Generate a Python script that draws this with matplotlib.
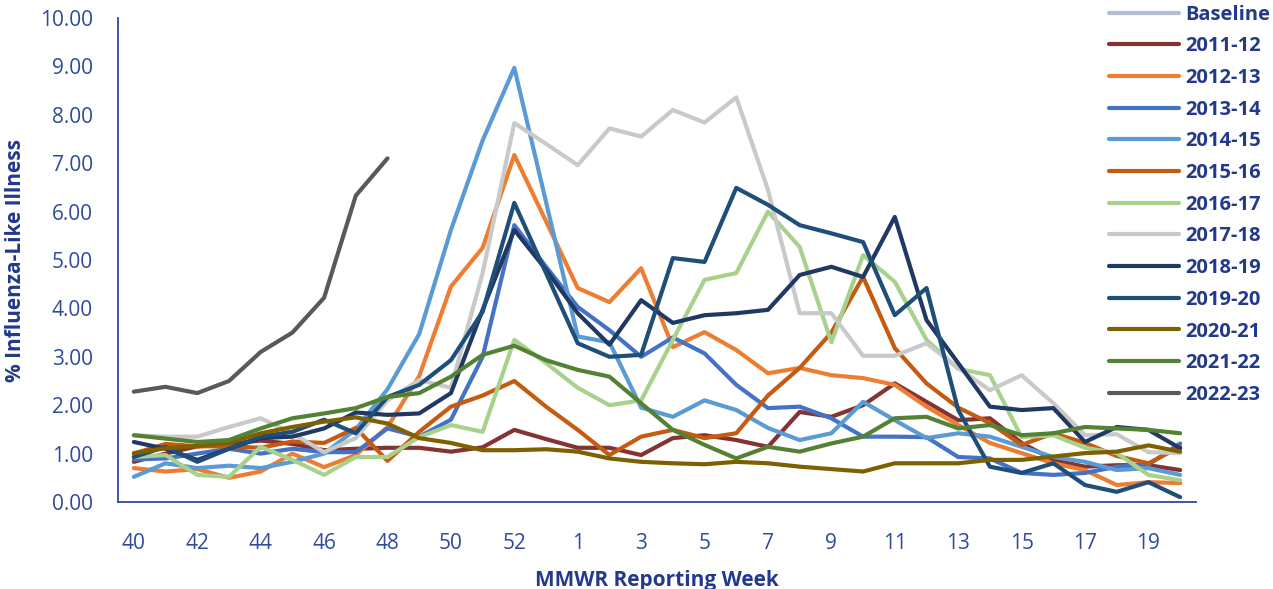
import numpy as np
import matplotlib
matplotlib.use("Agg")
import matplotlib.pyplot as plt

plt.rcParams['font.family'] = ['Open Sans', 'DejaVu Sans']

# MMWR weeks 40..53 then 1..20
weeks = list(range(40, 54)) + list(range(1, 21))
tick_labels = [str(w) if i % 2 == 0 else "" for i, w in enumerate(weeks)]

s2011_12 = [0.83, 1.0, 1.15, 1.2, 1.27, 1.2, 1.07, 1.1, 1.12, 1.12, 1.04, 1.13, 1.49, 1.3, 1.12, 1.12, 0.97,
            1.32, 1.38, 1.28, 1.14, 1.86, 1.76, 2.0, 2.45, 2.07, 1.69, 1.73, 1.22, 0.87, 0.73, 0.76, 0.76, 0.66]
s2012_13 = [0.7, 0.63, 0.68, 0.5, 0.63, 1.0, 0.72, 0.97, 1.55, 2.6, 4.45, 5.25, 7.17, 5.8, 4.42, 4.13, 4.83,
            3.2, 3.51, 3.14, 2.66, 2.77, 2.62, 2.56, 2.42, 1.97, 1.59, 1.22, 1.01, 0.8, 0.66, 0.35, 0.41, 0.39]
s2013_14 = [0.88, 0.9, 1.0, 1.1, 1.0, 1.1, 1.03, 1.03, 1.52, 1.35, 1.7, 3.0, 5.72, 4.86, 4.03, 3.55, 3.0,
            3.4, 3.07, 2.42, 1.94, 1.97, 1.73, 1.35, 1.35, 1.34, 0.93, 0.9, 0.6, 0.56, 0.6, 0.73, 0.77, 1.21]
s2014_15 = [0.52, 0.8, 0.7, 0.75, 0.7, 0.83, 1.0, 1.5, 2.33, 3.47, 5.62, 7.47, 8.97, 6.2, 3.42, 3.3, 1.95,
            1.76, 2.1, 1.9, 1.53, 1.28, 1.42, 2.07, 1.69, 1.32, 1.42, 1.35, 1.14, 0.93, 0.83, 0.66, 0.7, 0.56]
s2015_16 = [1.0, 1.2, 1.15, 1.15, 1.12, 1.25, 1.22, 1.53, 0.85, 1.45, 1.97, 2.2, 2.5, 1.97, 1.49, 0.97, 1.35,
            1.49, 1.32, 1.42, 2.2, 2.77, 3.5, 4.65, 3.18, 2.45, 1.95, 1.63, 1.18, 1.42, 1.22, 0.95, 0.8, 1.14]
s2016_17 = [0.93, 0.97, 0.56, 0.52, 1.14, 0.87, 0.56, 0.93, 0.93, 1.34, 1.59, 1.45, 3.35, 2.87, 2.36, 2.0, 2.1,
            3.35, 4.59, 4.73, 6.0, 5.27, 3.3, 5.1, 4.55, 3.35, 2.75, 2.62, 1.34, 1.38, 1.12, 1.01, 0.56, 0.45]
s2017_18 = [1.38, 1.35, 1.35, 1.55, 1.73, 1.42, 1.03, 1.32, 2.1, 2.52, 2.36, 4.73, 7.83, 7.4, 6.96, 7.72, 7.55,
            8.1, 7.84, 8.36, 6.45, 3.9, 3.9, 3.02, 3.02, 3.28, 2.77, 2.31, 2.62, 2.04, 1.38, 1.4, 1.03, 1.01]
s2018_19 = [1.24, 1.1, 0.87, 1.1, 1.32, 1.35, 1.52, 1.85, 1.8, 1.83, 2.25, 3.97, 5.62, 4.8, 3.9, 3.25, 4.17,
            3.7, 3.86, 3.9, 3.97, 4.69, 4.86, 4.65, 5.89, 3.76, 2.87, 1.97, 1.9, 1.94, 1.24, 1.55, 1.49, 1.11]
s2019_20 = [0.93, 1.14, 0.83, 1.1, 1.35, 1.45, 1.7, 1.42, 2.17, 2.42, 2.93, 3.93, 6.18, 4.73, 3.28, 3.0, 3.04,
            5.04, 4.96, 6.49, 6.14, 5.72, 5.55, 5.37, 3.86, 4.42, 1.9, 0.73, 0.6, 0.8, 0.35, 0.21, 0.41, 0.1]
s2020_21 = [1.01, 1.11, 1.16, 1.22, 1.42, 1.55, 1.66, 1.75, 1.62, 1.32, 1.22, 1.07, 1.07, 1.09, 1.04, 0.9, 0.83,
            0.8, 0.78, 0.83, 0.8, 0.73, 0.68, 0.63, 0.8, 0.8, 0.8, 0.87, 0.87, 0.94, 1.01, 1.04, 1.17, 1.04]
s2021_22 = [1.38, 1.31, 1.24, 1.28, 1.52, 1.73, 1.83, 1.94, 2.17, 2.25, 2.59, 3.04, 3.23, 2.93, 2.73, 2.59, 2.04,
            1.49, 1.18, 0.9, 1.14, 1.04, 1.21, 1.35, 1.73, 1.76, 1.52, 1.59, 1.38, 1.42, 1.55, 1.52, 1.49, 1.42]
s2022_23 = [2.28, 2.38, 2.25, 2.5, 3.1, 3.5, 4.22, 6.33, 7.1]

series = [
    ("2011-12", s2011_12, "#843332"),
    ("2012-13", s2012_13, "#ED7D31"),
    ("2013-14", s2013_14, "#4472C4"),
    ("2014-15", s2014_15, "#5B9BD5"),
    ("2015-16", s2015_16, "#C55A11"),
    ("2016-17", s2016_17, "#A9D18E"),
    ("2017-18", s2017_18, "#C9C9C9"),
    ("2018-19", s2018_19, "#203864"),
    ("2019-20", s2019_20, "#1F4E79"),
    ("2020-21", s2020_21, "#7F6000"),
    ("2021-22", s2021_22, "#548235"),
    ("2022-23", s2022_23, "#595959"),
]

axis_blue = "#2F4A9E"
text_blue = "#22398C"

fig = plt.figure(figsize=(12.73, 5.89), dpi=100)
ax = fig.add_axes([118 / 1273, 1 - 502 / 589, 1078 / 1273, 484 / 589])

x = np.arange(len(weeks))
# baseline is only in the legend
ax.plot([], [], color="#B4BED2", lw=3, solid_capstyle="round", label="Baseline")
for name, vals, col in series:
    ax.plot(x[:len(vals)], vals, color=col, lw=3, label=name,
            solid_joinstyle="round", solid_capstyle="round")

ax.set_xlim(-0.5, len(weeks) - 0.5)
ax.set_ylim(0, 10)
ax.set_xticks(x)
ax.set_xticklabels(tick_labels)
ax.set_yticks(np.arange(0, 11, 1))
ax.set_yticklabels([f"{v:.2f}" for v in range(0, 11)])
ax.tick_params(length=0, labelsize=15, colors=axis_blue)
ax.tick_params(axis="x", pad=22)
ax.tick_params(axis="y", pad=18)

for sp in ["top", "right"]:
    ax.spines[sp].set_visible(False)
for sp in ["left", "bottom"]:
    ax.spines[sp].set_color(axis_blue)
    ax.spines[sp].set_linewidth(1.3)

ax.set_ylabel("% Influenza-Like Illness", fontsize=15, fontweight="bold", color=text_blue)
ax.yaxis.set_label_coords(-0.085, 0.5)
ax.set_xlabel("MMWR Reporting Week", fontsize=15, fontweight="bold", color=text_blue)
ax.xaxis.set_label_coords(0.5, -0.14)

leg = fig.legend(loc="upper left", bbox_to_anchor=(1109 / 1273, 0.992), frameon=False,
                 fontsize=14.5, handlelength=3.5, handletextpad=0.3, labelspacing=0.58,
                 borderpad=0, borderaxespad=0)
for t in leg.get_texts():
    t.set_color(text_blue)
    t.set_fontweight("bold")

fig.savefig("out.png", dpi=100)
